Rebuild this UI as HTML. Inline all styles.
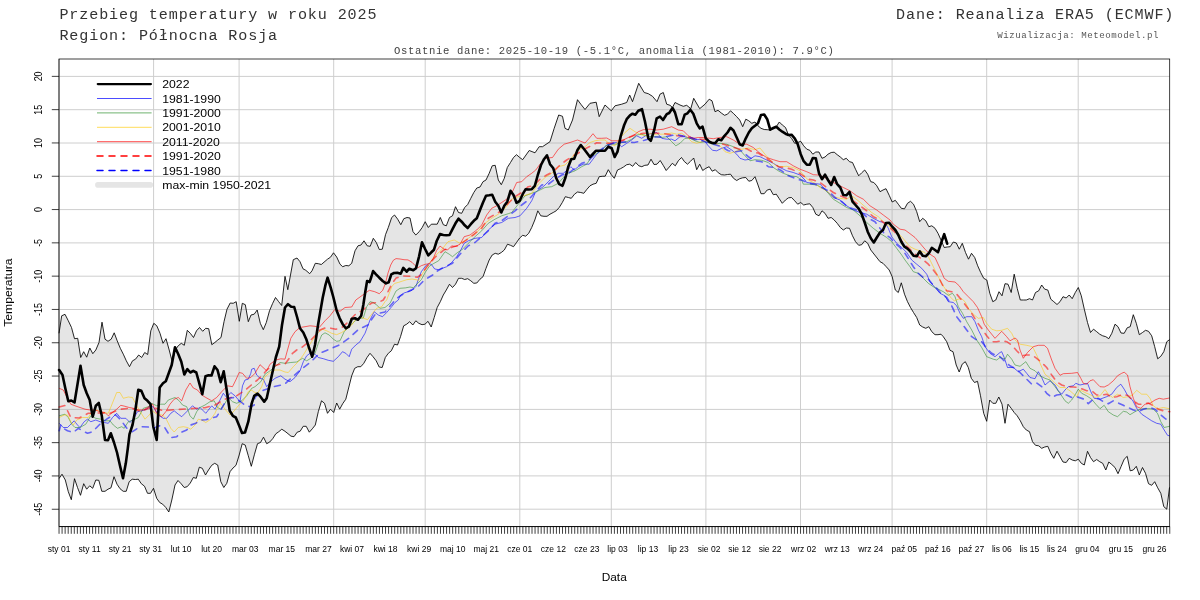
<!DOCTYPE html>
<html lang="pl"><head><meta charset="utf-8"><title>Przebieg temperatury w roku 2025</title>
<style>
html,body{margin:0;padding:0;background:#fff;}
body{width:1200px;height:600px;overflow:hidden;}
svg{display:block;}
.mono{font-family:"Liberation Mono","DejaVu Sans Mono",monospace;}
.sans{font-family:"Liberation Sans","DejaVu Sans",sans-serif;}
</style></head><body>
<svg width="1200" height="600" viewBox="0 0 1200 600">
<rect width="1200" height="600" fill="#fff"/>
<g class="mono" fill="#333">
<text x="59.4" y="18.9" font-size="15.1" letter-spacing="0.88">Przebieg temperatury w roku 2025</text>
<text x="59.4" y="40.1" font-size="15.1" letter-spacing="0.88">Region: Północna Rosja</text>
<text x="896" y="18.9" font-size="15.1" letter-spacing="0.88">Dane: Reanaliza ERA5 (ECMWF)</text>
<text x="997.2" y="37.6" font-size="9.1" letter-spacing="0.54" fill="#555">Wizualizacja: Meteomodel.pl</text>
<text x="394" y="53.5" font-size="10.6" letter-spacing="0.633" fill="#444">Ostatnie dane: 2025-10-19 (-5.1°C, anomalia (1981-2010): 7.9°C)</text>
</g>
<path d="M59 76.4 H1169.8 M59 109.7 H1169.8 M59 143 H1169.8 M59 176.3 H1169.8 M59 209.6 H1169.8 M59 242.9 H1169.8 M59 276.2 H1169.8 M59 309.5 H1169.8 M59 342.8 H1169.8 M59 376.1 H1169.8 M59 409.4 H1169.8 M59 442.6 H1169.8 M59 475.9 H1169.8 M59 509.2 H1169.8 M153.6 59 V526.6 M239.1 59 V526.6 M333.7 59 V526.6 M425.2 59 V526.6 M519.8 59 V526.6 M611.3 59 V526.6 M705.9 59 V526.6 M800.5 59 V526.6 M892.1 59 V526.6 M986.7 59 V526.6 M1078.2 59 V526.6" fill="none" stroke="#cecece" stroke-width="1"/>
<path d="M59 59 V526.6" fill="none" stroke="#999" stroke-width="1"/>
<path d="M59 333.3 L61.7 315.8 L65 314.3 L68.3 320.8 L71.5 327.5 L74.5 338.7 L77.7 338.3 L80.7 357.5 L83.7 351.7 L86.7 357.2 L89.8 348 L92.8 353.7 L95.8 350 L99 342.5 L102 322.2 L105 339.2 L108 341.3 L111.2 339.2 L114.2 332.8 L117.2 340.8 L120.3 348.3 L123.3 354.2 L126.3 360.8 L129.5 366.7 L132.5 360.8 L135.5 359.2 L138.7 355 L141.7 357.5 L144.7 352.5 L147.7 354.5 L150.8 330.8 L153.8 323.3 L156.8 325.8 L160 333.3 L163 343.3 L166 338.7 L169.2 350 L172.2 361.7 L175.2 350 L178.2 345.8 L181.3 343.3 L184.3 345.3 L187.3 330.3 L190.3 333.3 L193.5 337.5 L196.5 330.8 L199.5 327.5 L202.7 331.3 L205.7 328.3 L208.7 328.7 L211.8 344.7 L214.8 342.5 L217.8 340 L221 337.5 L224 321.7 L227 309.2 L230.2 303 L233.2 303.3 L236.2 301.7 L239.3 321.3 L242.3 303.3 L245.3 304.7 L248.3 321.7 L251 315 L254.2 314.2 L257.2 310 L260.3 323.3 L263.3 329.7 L266.3 322.5 L269.5 310.8 L272.5 303.7 L275.5 297.5 L278.7 301.7 L281.7 305.5 L285 276.3 L287.8 289.7 L293.3 259.7 L297 258 L300 261.7 L303 268.8 L305.8 270.3 L309.7 273.7 L312 270.8 L315.3 263.3 L318.3 263.7 L321.3 264.5 L327.5 259.2 L330.5 257.2 L333.5 252.8 L336.7 257 L340 264.2 L342.7 266.7 L345.8 265.5 L348.8 265.8 L351.7 263.3 L355 250.8 L358 245.8 L361 245 L364 240.8 L367.2 245.8 L370.2 246.3 L373.3 238.3 L376.3 242.5 L379.3 249.5 L382.3 249.2 L385.5 234.7 L388.3 227.5 L391.7 217.5 L394.5 215 L397.7 219.2 L400.8 224.7 L403.8 218.7 L407 217.5 L410 218 L413 231.7 L415.8 235 L419.2 231.7 L422.2 227.5 L425.2 221.7 L428.3 227.5 L431.3 224.2 L437.2 224.2 L440.3 217.5 L443.3 224.7 L446.3 225.8 L449.5 217.5 L452.5 215.8 L455.5 206.7 L458.5 212.5 L461.7 213.3 L464.7 207.5 L467.7 204.5 L470.8 198.3 L473.8 192.5 L476.8 188 L480 187 L483 181.7 L486 180 L489.2 173.3 L492.2 165.8 L495.2 165.3 L498.3 180 L501.3 184.7 L504.3 178.3 L507.3 167.5 L510.5 162.5 L513.5 157.5 L516.5 154.7 L519.7 157.5 L522.7 159.7 L529.2 150.5 L535 152.8 L539.2 146.7 L542.5 146.7 L550 141.7 L554.2 128.3 L558.7 115 L562.5 116.3 L565 128.3 L568.3 130 L572.5 120 L577.5 99.7 L580.8 104.2 L585 109.5 L590 103.3 L596.2 102.2 L599.2 116.7 L605 105 L611.3 110.8 L615 105.8 L621.7 104.2 L626.7 102.5 L629.7 95 L632.5 101.7 L638.7 83.3 L644.2 92.5 L648.3 93.7 L652.5 96.3 L657 101.7 L660 94.2 L663.3 92.5 L666.7 104.2 L670 105.3 L672.5 107.5 L675 102.5 L680 105 L683.3 106.3 L686.7 105.3 L690.8 108.7 L693.7 98.3 L699.7 108.7 L705 104.2 L709.2 99.2 L712 100.8 L715 111.7 L718 110.3 L721.3 113 L724.5 115.3 L727.5 114.2 L730.5 110.8 L733.3 113.3 L736.7 116.7 L739.7 120 L742.7 126.7 L745.8 119.2 L748.8 120.8 L751.8 123.3 L755 122 L758 125.8 L761 128.3 L764.2 129.5 L767.2 129.7 L770.2 130 L773.3 128.3 L776.3 126.7 L779.3 122 L782.3 125 L785.5 127.5 L788.5 135 L791.5 138.3 L794.7 143.3 L797.7 142.5 L800.7 141.3 L803.7 145.8 L806.8 149.2 L809.8 150.3 L812.8 154.2 L815.8 152 L819 152 L822 158.3 L825 157 L828 154.2 L831.2 152.5 L834.2 152.2 L837.2 154.7 L840.3 157 L843.3 159.7 L846.3 158.3 L849.5 161.7 L852.5 162.5 L855.5 169.2 L858.7 175.8 L861.7 172.8 L864.7 170 L867.7 174.2 L870 180 L870.8 181.7 L873.8 182.5 L876.8 185.8 L880 191.7 L883 190 L886 188.7 L889.2 195.3 L892.2 202 L895.3 200.3 L898.3 204.2 L901.3 208.3 L904.5 208.8 L907.5 203.3 L910.5 201.3 L913.5 204.2 L916.7 211.7 L919.7 221.7 L922.7 218.3 L925.8 220.8 L928.8 226.7 L931.8 225.8 L935 228.3 L938 233.3 L941 240 L944.2 247.5 L947.2 247 L950.2 246.7 L953.3 242 L956.3 243 L959.3 249.2 L962.3 243.3 L965.5 252.5 L968.5 259.2 L971.5 253.3 L974.7 257.5 L977.7 265.8 L980.7 272.5 L983.7 278.3 L986.8 280 L989.8 293.3 L992.8 301.7 L995.8 300 L999 291.7 L1002 295.8 L1005 283.7 L1008 284.2 L1011.2 292.5 L1014.2 274.2 L1017.2 288.3 L1020.3 300 L1023.3 300 L1026.3 300 L1029.5 298.7 L1032.5 300 L1035.5 292.5 L1038.7 290.8 L1041.7 285 L1044.7 289.2 L1047.8 290 L1050.8 299.2 L1053.8 301.7 L1057 304.5 L1060 301.7 L1063 296.7 L1066.2 298 L1069.2 295 L1072.2 298.7 L1075.3 292.5 L1078.3 287.5 L1081.3 295.8 L1084.3 309.2 L1087.5 322.5 L1090.5 332.5 L1093.5 329.2 L1096.7 331.7 L1099.7 334.2 L1102.7 335.8 L1105.8 336.7 L1108.8 338.7 L1111.8 333.3 L1115 324.2 L1118 326.7 L1121 333 L1124.2 333.3 L1127.2 327.8 L1130.2 326.7 L1133.3 314.7 L1136.3 323.3 L1139.3 334.7 L1142.5 332.5 L1145.5 330.3 L1148.5 331.3 L1151.7 335.8 L1154.7 346.7 L1157.7 358.8 L1160.8 356.3 L1163.8 351.7 L1166.8 341.7 L1169.5 339.7 L1169.8 339.7 L1169.8 487.5 L1169.5 487.5 L1166.8 509.2 L1163.8 506.7 L1160.8 493.3 L1157.7 487.8 L1154.7 481.7 L1151.7 485.3 L1148.5 483.7 L1145.5 473.3 L1142.5 467.5 L1139.3 475 L1136.3 466.3 L1133.3 470 L1130.2 470.8 L1127.2 456.3 L1124.2 459.2 L1121 466.7 L1118 473.7 L1115 467.5 L1111.8 464.5 L1108.8 462 L1105.8 470 L1102.7 463.3 L1099.7 461.7 L1096.7 459.5 L1093.5 461.7 L1090.5 457.5 L1087.5 451.3 L1084.3 465 L1081.3 463.3 L1078.3 459.2 L1075.3 460.8 L1072.2 460 L1069.2 458.3 L1066.2 462.5 L1063 462 L1060 456.7 L1057 451.2 L1053.8 458.3 L1050.8 453.3 L1047.8 446.3 L1044.7 447 L1041.7 448.3 L1038.7 445.8 L1035.5 445.3 L1032.5 441.7 L1029.5 431.7 L1026.3 430 L1023.3 426.7 L1020.3 420.8 L1017.2 415.8 L1014.2 412.5 L1011.2 408.3 L1008 404.2 L1005 423.3 L1002 404.2 L998.8 397 L995.8 403.3 L992.8 403.3 L989.7 400 L986.7 421.3 L983.7 413.3 L980.5 395.8 L977.5 381.3 L974.5 382.5 L971.3 378.3 L968.3 367.5 L965.3 361.7 L962.2 364.2 L959.2 372 L956.2 365 L953 351.7 L950 350.3 L946.7 341.7 L943.3 336.7 L941 334.2 L938 334.7 L935 334.7 L931.8 331.7 L928.8 326.7 L925.8 328.3 L922.7 327 L919.7 325 L916.7 317.5 L913.5 312.5 L910.5 307.5 L907.5 301.7 L904.5 294.2 L901.3 282.8 L898.3 292.5 L895.3 290 L892.2 276.7 L889.2 270 L886.2 266.7 L883 263.3 L880 261.7 L870.8 250 L867.7 243.3 L864.7 240.8 L861.7 244.7 L858.7 245.3 L855.5 241.7 L852.5 235.8 L849.5 228.3 L846.3 228 L843.3 230 L840.3 227.5 L837.2 223.3 L834.2 220 L831.2 217.5 L828 218.3 L825 213.3 L822 210.8 L819 215.8 L815.8 214.2 L812.8 207.5 L809.8 203.8 L806.8 204.2 L803.7 205 L800.7 202.5 L797.7 204.2 L794.7 200.8 L791.5 197.5 L788.5 197.8 L785.5 200 L782.3 203.3 L779.3 198.8 L776.3 194.2 L773.3 194.7 L770.2 189.2 L767.2 190 L764.2 193.7 L761 193.7 L758 185 L755 176.7 L751.8 180.5 L748.8 181.2 L745.8 177.5 L742.7 177.8 L739.7 178.7 L736.7 180.5 L733.5 178.3 L730.5 174.2 L727.5 174.5 L724.5 175 L721.3 174.7 L718.3 172.8 L715.3 169.7 L712.2 171.2 L709.2 166.7 L705.8 168.3 L702.7 170.5 L699.7 164.2 L696.7 169.7 L693.7 158 L690.5 161.3 L687.5 164.2 L684.5 161.7 L681.5 157.5 L678.3 160.8 L675.3 165.8 L672.3 163.3 L669.3 167 L666.2 170.5 L663.2 165.3 L660.2 160.5 L657 164.2 L654 164.5 L651 159.2 L648 165 L644.8 165.3 L641.8 166.7 L638.8 165.8 L635.7 162.5 L632.7 166.3 L629.7 164.2 L626.7 164.7 L623.5 167 L620.5 168.7 L617.5 170 L614.3 178.3 L611.3 174.7 L608.3 169.7 L605.2 176.2 L602.2 176.3 L599.2 176.7 L596.2 183.3 L593 184.2 L590 185.8 L587 189.2 L583.8 193.3 L580.8 192.5 L577.5 192 L574.5 194.2 L571.3 198.3 L568.3 197.5 L565.3 196.7 L562.3 202.5 L559.2 207.5 L556.2 210.8 L553.2 212.5 L550 214.2 L547 216.3 L544 216.3 L540.8 215.8 L537.8 210.8 L534.8 220 L531.7 227.5 L528.7 233.3 L525.7 236.2 L522.7 235.3 L519.7 238 L516.5 242.5 L513.5 246.7 L510.5 245.3 L507.5 244.2 L504.3 250 L501.3 252.5 L498.3 254.2 L495.2 253.3 L492.2 255 L489.2 260 L486 268.3 L483 276.7 L480 279.2 L476.8 283 L473.8 283.3 L470.8 280.8 L467.7 278.7 L464.7 279.5 L461.7 278.3 L458.5 278.3 L455.5 284.2 L452.5 287.5 L449.5 284.2 L446.3 290 L443.3 295 L440.3 301.7 L437.2 307.5 L434.2 317.5 L431.2 327 L428 321.3 L425 324.2 L422 324.7 L418.8 323.3 L415.8 320.8 L412.8 325 L409.7 321.7 L406.7 324.2 L403.7 325.8 L400.5 336.7 L397.5 345 L394.5 344.2 L391.3 350.8 L388.3 353.3 L385.3 357.5 L382.2 367.5 L379.2 367 L376.2 360.8 L373 356.7 L370 353.3 L367 357.5 L363.8 363.3 L360.8 366.7 L357.8 366.7 L354.7 368.3 L351.7 375.8 L345.8 399.2 L342.7 403.7 L339.7 409.2 L336.7 403 L333.7 412.5 L330.5 409.2 L327.5 413.3 L324.5 403.3 L321.5 400.8 L318.3 411.7 L315.3 425 L312.3 428.8 L309.3 432.2 L306.2 426.3 L303.2 426.3 L300.2 431.2 L297.2 432.2 L294 436.7 L291 436.2 L288 433.7 L285 431.3 L281.8 429.2 L278.8 431.7 L275.8 433.8 L272.7 438.7 L269.7 442 L266.7 443.7 L263.5 437.2 L260.5 442.5 L257.5 443.7 L254.5 454.2 L251.3 466.3 L248.3 455.8 L245.2 445 L242.2 443.7 L239.2 455 L236 465.3 L233 468 L230 471.7 L226.8 483.3 L223.8 487.5 L220.8 481.7 L217.7 465 L214.7 463.3 L211.7 465.3 L208.5 470 L205.5 475 L202.3 468.3 L199.3 467.2 L196.3 478.3 L193.3 477.5 L190.3 483 L187.2 486.7 L184.2 487.5 L181.2 483.8 L178 480.5 L175 485 L171.8 500 L168.8 512 L165.8 507.5 L162.7 504.2 L159.7 502.5 L156.7 498.3 L153.5 488.3 L150.5 493.3 L147.5 493.3 L144.5 486.2 L141.3 483.7 L138.3 479.2 L135.3 479.5 L132.2 479.2 L129.2 481.7 L126.2 491.3 L123.2 491.3 L120 488.7 L117 484.2 L114 476.7 L111 487.8 L108 489.2 L105 491.3 L101.8 491.3 L98.8 480.3 L95.8 480 L92.7 488.3 L89.7 485.8 L86.7 489.2 L83.7 483.7 L80.5 495.3 L77.5 487.5 L74.5 478.7 L71.3 499.7 L68.3 491.7 L65.3 480 L62 474.2 L59.2 478.3 L59 478.3 Z" fill="rgba(169,169,169,0.3)" stroke="none"/>
<path d="M59 333.3 L61.7 315.8 L65 314.3 L68.3 320.8 L71.5 327.5 L74.5 338.7 L77.7 338.3 L80.7 357.5 L83.7 351.7 L86.7 357.2 L89.8 348 L92.8 353.7 L95.8 350 L99 342.5 L102 322.2 L105 339.2 L108 341.3 L111.2 339.2 L114.2 332.8 L117.2 340.8 L120.3 348.3 L123.3 354.2 L126.3 360.8 L129.5 366.7 L132.5 360.8 L135.5 359.2 L138.7 355 L141.7 357.5 L144.7 352.5 L147.7 354.5 L150.8 330.8 L153.8 323.3 L156.8 325.8 L160 333.3 L163 343.3 L166 338.7 L169.2 350 L172.2 361.7 L175.2 350 L178.2 345.8 L181.3 343.3 L184.3 345.3 L187.3 330.3 L190.3 333.3 L193.5 337.5 L196.5 330.8 L199.5 327.5 L202.7 331.3 L205.7 328.3 L208.7 328.7 L211.8 344.7 L214.8 342.5 L217.8 340 L221 337.5 L224 321.7 L227 309.2 L230.2 303 L233.2 303.3 L236.2 301.7 L239.3 321.3 L242.3 303.3 L245.3 304.7 L248.3 321.7 L251 315 L254.2 314.2 L257.2 310 L260.3 323.3 L263.3 329.7 L266.3 322.5 L269.5 310.8 L272.5 303.7 L275.5 297.5 L278.7 301.7 L281.7 305.5 L285 276.3 L287.8 289.7 L293.3 259.7 L297 258 L300 261.7 L303 268.8 L305.8 270.3 L309.7 273.7 L312 270.8 L315.3 263.3 L318.3 263.7 L321.3 264.5 L327.5 259.2 L330.5 257.2 L333.5 252.8 L336.7 257 L340 264.2 L342.7 266.7 L345.8 265.5 L348.8 265.8 L351.7 263.3 L355 250.8 L358 245.8 L361 245 L364 240.8 L367.2 245.8 L370.2 246.3 L373.3 238.3 L376.3 242.5 L379.3 249.5 L382.3 249.2 L385.5 234.7 L388.3 227.5 L391.7 217.5 L394.5 215 L397.7 219.2 L400.8 224.7 L403.8 218.7 L407 217.5 L410 218 L413 231.7 L415.8 235 L419.2 231.7 L422.2 227.5 L425.2 221.7 L428.3 227.5 L431.3 224.2 L437.2 224.2 L440.3 217.5 L443.3 224.7 L446.3 225.8 L449.5 217.5 L452.5 215.8 L455.5 206.7 L458.5 212.5 L461.7 213.3 L464.7 207.5 L467.7 204.5 L470.8 198.3 L473.8 192.5 L476.8 188 L480 187 L483 181.7 L486 180 L489.2 173.3 L492.2 165.8 L495.2 165.3 L498.3 180 L501.3 184.7 L504.3 178.3 L507.3 167.5 L510.5 162.5 L513.5 157.5 L516.5 154.7 L519.7 157.5 L522.7 159.7 L529.2 150.5 L535 152.8 L539.2 146.7 L542.5 146.7 L550 141.7 L554.2 128.3 L558.7 115 L562.5 116.3 L565 128.3 L568.3 130 L572.5 120 L577.5 99.7 L580.8 104.2 L585 109.5 L590 103.3 L596.2 102.2 L599.2 116.7 L605 105 L611.3 110.8 L615 105.8 L621.7 104.2 L626.7 102.5 L629.7 95 L632.5 101.7 L638.7 83.3 L644.2 92.5 L648.3 93.7 L652.5 96.3 L657 101.7 L660 94.2 L663.3 92.5 L666.7 104.2 L670 105.3 L672.5 107.5 L675 102.5 L680 105 L683.3 106.3 L686.7 105.3 L690.8 108.7 L693.7 98.3 L699.7 108.7 L705 104.2 L709.2 99.2 L712 100.8 L715 111.7 L718 110.3 L721.3 113 L724.5 115.3 L727.5 114.2 L730.5 110.8 L733.3 113.3 L736.7 116.7 L739.7 120 L742.7 126.7 L745.8 119.2 L748.8 120.8 L751.8 123.3 L755 122 L758 125.8 L761 128.3 L764.2 129.5 L767.2 129.7 L770.2 130 L773.3 128.3 L776.3 126.7 L779.3 122 L782.3 125 L785.5 127.5 L788.5 135 L791.5 138.3 L794.7 143.3 L797.7 142.5 L800.7 141.3 L803.7 145.8 L806.8 149.2 L809.8 150.3 L812.8 154.2 L815.8 152 L819 152 L822 158.3 L825 157 L828 154.2 L831.2 152.5 L834.2 152.2 L837.2 154.7 L840.3 157 L843.3 159.7 L846.3 158.3 L849.5 161.7 L852.5 162.5 L855.5 169.2 L858.7 175.8 L861.7 172.8 L864.7 170 L867.7 174.2 L870 180 L870.8 181.7 L873.8 182.5 L876.8 185.8 L880 191.7 L883 190 L886 188.7 L889.2 195.3 L892.2 202 L895.3 200.3 L898.3 204.2 L901.3 208.3 L904.5 208.8 L907.5 203.3 L910.5 201.3 L913.5 204.2 L916.7 211.7 L919.7 221.7 L922.7 218.3 L925.8 220.8 L928.8 226.7 L931.8 225.8 L935 228.3 L938 233.3 L941 240 L944.2 247.5 L947.2 247 L950.2 246.7 L953.3 242 L956.3 243 L959.3 249.2 L962.3 243.3 L965.5 252.5 L968.5 259.2 L971.5 253.3 L974.7 257.5 L977.7 265.8 L980.7 272.5 L983.7 278.3 L986.8 280 L989.8 293.3 L992.8 301.7 L995.8 300 L999 291.7 L1002 295.8 L1005 283.7 L1008 284.2 L1011.2 292.5 L1014.2 274.2 L1017.2 288.3 L1020.3 300 L1023.3 300 L1026.3 300 L1029.5 298.7 L1032.5 300 L1035.5 292.5 L1038.7 290.8 L1041.7 285 L1044.7 289.2 L1047.8 290 L1050.8 299.2 L1053.8 301.7 L1057 304.5 L1060 301.7 L1063 296.7 L1066.2 298 L1069.2 295 L1072.2 298.7 L1075.3 292.5 L1078.3 287.5 L1081.3 295.8 L1084.3 309.2 L1087.5 322.5 L1090.5 332.5 L1093.5 329.2 L1096.7 331.7 L1099.7 334.2 L1102.7 335.8 L1105.8 336.7 L1108.8 338.7 L1111.8 333.3 L1115 324.2 L1118 326.7 L1121 333 L1124.2 333.3 L1127.2 327.8 L1130.2 326.7 L1133.3 314.7 L1136.3 323.3 L1139.3 334.7 L1142.5 332.5 L1145.5 330.3 L1148.5 331.3 L1151.7 335.8 L1154.7 346.7 L1157.7 358.8 L1160.8 356.3 L1163.8 351.7 L1166.8 341.7 L1169.5 339.7 L1169.8 339.7" fill="none" stroke="#000" stroke-width="0.85" stroke-linejoin="round"/>
<path d="M59 478.3 L59.2 478.3 L62 474.2 L65.3 480 L68.3 491.7 L71.3 499.7 L74.5 478.7 L77.5 487.5 L80.5 495.3 L83.7 483.7 L86.7 489.2 L89.7 485.8 L92.7 488.3 L95.8 480 L98.8 480.3 L101.8 491.3 L105 491.3 L108 489.2 L111 487.8 L114 476.7 L117 484.2 L120 488.7 L123.2 491.3 L126.2 491.3 L129.2 481.7 L132.2 479.2 L135.3 479.5 L138.3 479.2 L141.3 483.7 L144.5 486.2 L147.5 493.3 L150.5 493.3 L153.5 488.3 L156.7 498.3 L159.7 502.5 L162.7 504.2 L165.8 507.5 L168.8 512 L171.8 500 L175 485 L178 480.5 L181.2 483.8 L184.2 487.5 L187.2 486.7 L190.3 483 L193.3 477.5 L196.3 478.3 L199.3 467.2 L202.3 468.3 L205.5 475 L208.5 470 L211.7 465.3 L214.7 463.3 L217.7 465 L220.8 481.7 L223.8 487.5 L226.8 483.3 L230 471.7 L233 468 L236 465.3 L239.2 455 L242.2 443.7 L245.2 445 L248.3 455.8 L251.3 466.3 L254.5 454.2 L257.5 443.7 L260.5 442.5 L263.5 437.2 L266.7 443.7 L269.7 442 L272.7 438.7 L275.8 433.8 L278.8 431.7 L281.8 429.2 L285 431.3 L288 433.7 L291 436.2 L294 436.7 L297.2 432.2 L300.2 431.2 L303.2 426.3 L306.2 426.3 L309.3 432.2 L312.3 428.8 L315.3 425 L318.3 411.7 L321.5 400.8 L324.5 403.3 L327.5 413.3 L330.5 409.2 L333.7 412.5 L336.7 403 L339.7 409.2 L342.7 403.7 L345.8 399.2 L351.7 375.8 L354.7 368.3 L357.8 366.7 L360.8 366.7 L363.8 363.3 L367 357.5 L370 353.3 L373 356.7 L376.2 360.8 L379.2 367 L382.2 367.5 L385.3 357.5 L388.3 353.3 L391.3 350.8 L394.5 344.2 L397.5 345 L400.5 336.7 L403.7 325.8 L406.7 324.2 L409.7 321.7 L412.8 325 L415.8 320.8 L418.8 323.3 L422 324.7 L425 324.2 L428 321.3 L431.2 327 L434.2 317.5 L437.2 307.5 L440.3 301.7 L443.3 295 L446.3 290 L449.5 284.2 L452.5 287.5 L455.5 284.2 L458.5 278.3 L461.7 278.3 L464.7 279.5 L467.7 278.7 L470.8 280.8 L473.8 283.3 L476.8 283 L480 279.2 L483 276.7 L486 268.3 L489.2 260 L492.2 255 L495.2 253.3 L498.3 254.2 L501.3 252.5 L504.3 250 L507.5 244.2 L510.5 245.3 L513.5 246.7 L516.5 242.5 L519.7 238 L522.7 235.3 L525.7 236.2 L528.7 233.3 L531.7 227.5 L534.8 220 L537.8 210.8 L540.8 215.8 L544 216.3 L547 216.3 L550 214.2 L553.2 212.5 L556.2 210.8 L559.2 207.5 L562.3 202.5 L565.3 196.7 L568.3 197.5 L571.3 198.3 L574.5 194.2 L577.5 192 L580.8 192.5 L583.8 193.3 L587 189.2 L590 185.8 L593 184.2 L596.2 183.3 L599.2 176.7 L602.2 176.3 L605.2 176.2 L608.3 169.7 L611.3 174.7 L614.3 178.3 L617.5 170 L620.5 168.7 L623.5 167 L626.7 164.7 L629.7 164.2 L632.7 166.3 L635.7 162.5 L638.8 165.8 L641.8 166.7 L644.8 165.3 L648 165 L651 159.2 L654 164.5 L657 164.2 L660.2 160.5 L663.2 165.3 L666.2 170.5 L669.3 167 L672.3 163.3 L675.3 165.8 L678.3 160.8 L681.5 157.5 L684.5 161.7 L687.5 164.2 L690.5 161.3 L693.7 158 L696.7 169.7 L699.7 164.2 L702.7 170.5 L705.8 168.3 L709.2 166.7 L712.2 171.2 L715.3 169.7 L718.3 172.8 L721.3 174.7 L724.5 175 L727.5 174.5 L730.5 174.2 L733.5 178.3 L736.7 180.5 L739.7 178.7 L742.7 177.8 L745.8 177.5 L748.8 181.2 L751.8 180.5 L755 176.7 L758 185 L761 193.7 L764.2 193.7 L767.2 190 L770.2 189.2 L773.3 194.7 L776.3 194.2 L779.3 198.8 L782.3 203.3 L785.5 200 L788.5 197.8 L791.5 197.5 L794.7 200.8 L797.7 204.2 L800.7 202.5 L803.7 205 L806.8 204.2 L809.8 203.8 L812.8 207.5 L815.8 214.2 L819 215.8 L822 210.8 L825 213.3 L828 218.3 L831.2 217.5 L834.2 220 L837.2 223.3 L840.3 227.5 L843.3 230 L846.3 228 L849.5 228.3 L852.5 235.8 L855.5 241.7 L858.7 245.3 L861.7 244.7 L864.7 240.8 L867.7 243.3 L870.8 250 L880 261.7 L883 263.3 L886.2 266.7 L889.2 270 L892.2 276.7 L895.3 290 L898.3 292.5 L901.3 282.8 L904.5 294.2 L907.5 301.7 L910.5 307.5 L913.5 312.5 L916.7 317.5 L919.7 325 L922.7 327 L925.8 328.3 L928.8 326.7 L931.8 331.7 L935 334.7 L938 334.7 L941 334.2 L943.3 336.7 L946.7 341.7 L950 350.3 L953 351.7 L956.2 365 L959.2 372 L962.2 364.2 L965.3 361.7 L968.3 367.5 L971.3 378.3 L974.5 382.5 L977.5 381.3 L980.5 395.8 L983.7 413.3 L986.7 421.3 L989.7 400 L992.8 403.3 L995.8 403.3 L998.8 397 L1002 404.2 L1005 423.3 L1008 404.2 L1011.2 408.3 L1014.2 412.5 L1017.2 415.8 L1020.3 420.8 L1023.3 426.7 L1026.3 430 L1029.5 431.7 L1032.5 441.7 L1035.5 445.3 L1038.7 445.8 L1041.7 448.3 L1044.7 447 L1047.8 446.3 L1050.8 453.3 L1053.8 458.3 L1057 451.2 L1060 456.7 L1063 462 L1066.2 462.5 L1069.2 458.3 L1072.2 460 L1075.3 460.8 L1078.3 459.2 L1081.3 463.3 L1084.3 465 L1087.5 451.3 L1090.5 457.5 L1093.5 461.7 L1096.7 459.5 L1099.7 461.7 L1102.7 463.3 L1105.8 470 L1108.8 462 L1111.8 464.5 L1115 467.5 L1118 473.7 L1121 466.7 L1124.2 459.2 L1127.2 456.3 L1130.2 470.8 L1133.3 470 L1136.3 466.3 L1139.3 475 L1142.5 467.5 L1145.5 473.3 L1148.5 483.7 L1151.7 485.3 L1154.7 481.7 L1157.7 487.8 L1160.8 493.3 L1163.8 506.7 L1166.8 509.2 L1169.5 487.5 L1169.8 487.5" fill="none" stroke="#000" stroke-width="0.85" stroke-linejoin="round"/>
<path d="M59 423.3 L59.2 423.3 L63.3 427.5 L67.5 427.5 L71.7 423.3 L74.2 420.8 L77.5 425 L80 427.5 L84.2 421.7 L87.5 419.2 L90.8 421.7 L95.8 420 L100 421.7 L104.2 422.5 L108.3 423.3 L112.5 417.5 L116.7 413.3 L120.8 418.3 L125.8 418.3 L130 422.5 L134.2 417.5 L137.5 411.7 L141.7 410.8 L146.7 409.2 L150.8 405 L155 409.2 L158.3 415 L163.3 418.3 L166.7 418.3 L170.8 413.3 L174.2 410.8 L178.3 414.2 L181.7 416.7 L186.7 411.7 L192.5 405.8 L196.7 409.2 L200 407.5 L205.8 413.3 L211.7 405.8 L215 409.2 L219.2 401.7 L223.3 393.3 L226.7 397.5 L230.8 392.5 L235 395.8 L240 401.7 L242.5 385.8 L245 380 L248.3 379.2 L250.8 373.3 L251.7 369.2 L254.2 368.3 L256.7 375 L260 378.3 L263.3 379.2 L266.7 386.7 L270 382.5 L275 378.3 L280.8 375.8 L285 379.2 L290 381.7 L295 377.5 L300 370.8 L303.3 361.7 L306.7 355.8 L310 353.3 L315 354.2 L318.3 357.5 L323.3 358.7 L328.3 360.3 L333.3 361.3 L338.3 356.7 L342.5 351.7 L345.8 353.3 L349.2 356.7 L351.7 349.2 L355.8 345 L360 341.7 L365 333.3 L370 320 L374.2 311.7 L378.3 315 L382.5 316.7 L386.7 312.5 L391.7 306.7 L395 302.5 L398.3 300 L400 295.7 L404 293 L408 291.7 L412 290.3 L416 286.3 L418.7 278.3 L421.3 271.7 L425.3 266.3 L428.7 263.7 L431.3 264.3 L434.7 269 L438.7 269.7 L446.7 266.7 L451.7 262.5 L456.7 256.7 L460.8 250 L464.2 243.3 L468.3 240.8 L475 238.3 L481.7 237.5 L488.3 230 L495 224.2 L501.7 222.5 L508.3 218.3 L515 217.5 L520 215.8 L526.7 208.3 L531.7 200.8 L535 193.3 L538.3 190 L543.3 186.7 L548.3 181.7 L553.3 176.7 L558.3 173.3 L563.3 173.3 L568.3 169.2 L570.8 166.7 L574.2 170 L578.3 166.7 L583.3 164.2 L589.2 164.2 L596.7 154.2 L601.7 150 L606.7 145 L611.7 143.3 L616.7 142.5 L621.7 146.7 L626.7 143.3 L631.7 140 L636.7 135.8 L641.7 138.3 L646.7 135 L651.7 133.3 L656.7 132.5 L661.7 138.3 L666.7 139.2 L671.7 139.2 L675 140.8 L680 136.7 L685 136.7 L690 138.3 L695 140 L700 139.2 L705 141.7 L708.3 145.8 L712.5 150.3 L716.7 150.8 L721.7 148.3 L726.7 146.7 L731.7 150 L736.7 154.2 L740 158.3 L745 160 L750 159.2 L755 155.8 L760 156.7 L766.7 160 L773.3 163.3 L780 167.5 L786.7 170.8 L793.3 172.5 L800 175 L805 180 L806.7 182.5 L813.3 183.3 L820 184.2 L826.7 190.8 L833.3 197.5 L840 200 L846.7 205.8 L853.3 210 L860 212.5 L866.7 214.2 L873.3 218.3 L880 221.7 L885 222.5 L888.3 228.3 L891.7 236.7 L896.7 243.3 L901.7 247.5 L906.7 252.5 L911.7 260 L916.7 264.2 L921.7 268.3 L926.7 274.2 L930 281.7 L935 287.5 L940 293.3 L945 295.8 L948.3 301.7 L953.3 302.5 L956.7 305.8 L960 313.3 L963.3 318.3 L966.7 316.7 L971.7 316.7 L975 321.7 L978.3 330 L981.7 336.7 L985 346.7 L990 353.3 L995 356.7 L1000 352.5 L1001.7 351.7 L1004.2 357.5 L1007.5 367.5 L1013.3 367.5 L1018.3 371.7 L1023.3 369.2 L1026.7 373.3 L1030 377.5 L1035 378.7 L1038.3 371.7 L1041.7 377.5 L1045 385 L1050 380.8 L1055 385 L1058.3 390.8 L1061.7 394.2 L1065 390 L1068.3 386.7 L1073.3 385.8 L1075.8 383.3 L1080 385 L1087.5 383.3 L1090.8 391.7 L1094.2 398.3 L1100 399.2 L1106.7 396.7 L1111.7 394.2 L1116.7 387.5 L1120.8 384.2 L1124.2 389.2 L1128.3 396.7 L1132.5 400 L1136.7 408.3 L1141.7 414.2 L1146.7 417.5 L1151.7 420.8 L1156.7 423.3 L1160.8 424.2 L1164.2 430 L1167.5 435.3 L1169.5 435.8 L1169.8 435.8" fill="none" stroke="rgba(0,0,255,0.7)" stroke-width="0.85" stroke-linejoin="round"/>
<path d="M59 415.8 L59.2 415.8 L65 414.2 L68.3 417.5 L71.7 424.2 L75 427.5 L80 427.5 L85.8 424.2 L90.8 415.8 L95.8 418.3 L100.8 419.2 L105 420.8 L110 420.8 L113.3 425 L117.5 428.3 L121.7 426.7 L124.2 428.3 L128.3 421.7 L133.3 420 L138.3 417.5 L143.3 408.3 L148.3 406.7 L151.7 403.3 L156.7 405.8 L160.8 404.2 L165 404.2 L168.3 400 L175 397.5 L179.2 400.8 L182.5 405 L186.7 406.7 L190 415.8 L193.3 419.2 L196.7 411.7 L200 407.5 L205 405 L210 401.7 L214.2 400.8 L217.5 407.5 L220.8 409.2 L225 403.3 L228.3 397.5 L232.5 401.7 L236.7 403.3 L241.7 400.8 L246.7 395.8 L251.7 388.3 L255 386.7 L260.8 381.7 L265 374.2 L270 370.8 L275 366.7 L280 362.5 L285 363.3 L290.8 362.5 L296.7 362 L302.5 358.3 L306.7 360.8 L310.8 358.3 L315 353.3 L318.3 343.3 L321.7 335 L325 332.8 L329.2 335 L333.3 339.2 L336.7 341.3 L340 340.8 L344.2 331.7 L348.3 327.5 L353.3 322.5 L358.3 318.3 L363.3 318 L366.7 306.7 L370 301.7 L373.3 302.5 L376.7 305 L380 308.3 L385 307.5 L390 303.3 L396 291 L400 288.3 L405.3 287.9 L410 287 L413.3 287.7 L417.3 283.7 L421.3 279.7 L425.3 272.3 L429.3 266.3 L433.3 263.7 L438.7 260.7 L445 251.7 L449.2 254.2 L452.5 256.7 L457.5 252.5 L461.7 250 L468.3 243.3 L475 236.7 L481.7 230.8 L488.3 223.3 L495 219.2 L501.7 215.8 L508.3 213.7 L511.7 212.5 L518.3 204.2 L525 195.8 L531.7 193.3 L538.3 190.8 L545 187.5 L551.7 186.7 L558.3 183.3 L563.3 177.5 L568.3 173.3 L575 170.8 L581.7 166.7 L586.7 164.2 L591.7 156.7 L596.7 153.3 L601.7 150 L606.7 145 L611.7 144.2 L616.7 144.2 L621.7 142.5 L626.7 141.7 L631.7 139.2 L636.7 135 L641.7 134.2 L646.7 135.8 L651.7 136.7 L656.7 136.7 L661.7 137.5 L666.7 136.7 L671.7 141.7 L675.8 145.8 L680 143.3 L685 138.3 L690 138.3 L695 140.8 L700 142.5 L705 141.7 L713.3 144.2 L720 143.3 L726.7 144.2 L733.3 146.7 L740 150 L745 155.8 L750 160.8 L755 159.7 L761.7 160.3 L768.3 162.5 L773.3 167.5 L778.3 170.8 L783.3 173.3 L790 175.8 L796.7 176.7 L801.7 180 L803.3 184.2 L810 184.2 L816.7 185 L823.3 188.3 L828.3 193.3 L833.3 199.2 L840 203.3 L846.7 207.5 L853.3 210 L860 215.8 L866.7 222.5 L873.3 228.3 L880 233.3 L886.7 237.5 L891.7 241.7 L896.7 248.3 L901.7 255 L905 260 L910 266.7 L913.3 271.7 L918.3 273.3 L923.3 278.3 L928.3 283.3 L933.3 286.7 L938.3 289.2 L943.3 291.7 L948.3 295.3 L952.5 293.3 L955 296.7 L958.3 306.7 L962.5 313.3 L966.7 321.7 L971.7 330 L976.7 340 L981.7 347.5 L986.7 356.7 L993.3 359.2 L996.7 360 L1000 357.5 L1005 359.2 L1007.5 354.2 L1011.7 359.2 L1015 365 L1020 366.3 L1025.8 361.7 L1030 368.3 L1035 370.8 L1040 375.8 L1045 378.3 L1050 380 L1055 386.7 L1060 393.3 L1065 400.8 L1068.3 403.3 L1071.7 400 L1075 395 L1078.3 389.2 L1081.7 393.3 L1086.7 395.8 L1091.7 399.2 L1095.8 404.2 L1100 408.7 L1104.2 405.3 L1108.3 411.7 L1113.3 415 L1117.5 416.7 L1123.3 411.3 L1126.7 412 L1130 414.7 L1135 411.7 L1140 409.2 L1145 408.7 L1150 408.7 L1153.3 409.2 L1157.5 413.3 L1160.8 421.7 L1164.2 427.5 L1169.5 426.3 L1169.8 426.3" fill="none" stroke="rgba(34,139,34,0.65)" stroke-width="0.85" stroke-linejoin="round"/>
<path d="M59 417.5 L59.2 417.5 L64.2 415 L67.5 415 L70.8 421.7 L73.3 425 L76.7 420 L82.5 417.5 L88.3 417.5 L92.5 410.8 L96.7 410 L102.5 412.5 L108.3 413.3 L111.7 405 L116.7 392.5 L120 392.5 L123.3 398.3 L128.3 397 L132.5 397.5 L136.7 405.8 L140.8 412.5 L145 419.2 L149.2 415 L152.5 410.8 L156.7 414.2 L162.5 415 L166.7 420 L170.8 428.3 L174.2 432 L178.3 427.5 L183.3 426.7 L187.5 427.5 L190.8 429.2 L195 425 L198.3 419.2 L201.7 420 L205.8 422.5 L210.8 419.2 L215 413.3 L217.5 407.5 L220.8 403.3 L225 409.2 L230 415 L234.2 410.8 L238.3 405.8 L243.3 400.8 L248.3 391.7 L251.7 390 L253.3 391.7 L257.5 393.3 L261.7 386.7 L265 376.7 L270 372.5 L275 370 L280 370 L285 372 L288.3 372.5 L293.3 366.7 L298.3 361.7 L303.3 355 L308.3 346.7 L313.3 339.2 L318.3 332.5 L322.5 329.2 L326.7 330.8 L331.7 333.3 L336.7 334.7 L341.7 332.5 L346.7 329.2 L351.7 325 L355.8 319.2 L361.7 317.5 L367.5 319.7 L371.7 314.2 L376.7 308.3 L381.7 306.7 L385 301.7 L386.7 300 L389.3 293 L392 286.3 L394.7 283.4 L398.7 282.3 L402.7 281 L406.7 279.7 L412 279 L416 279.7 L418.7 280.3 L421.3 275.7 L425.3 269 L429.3 263.7 L433.3 258.3 L437.3 253.7 L441.3 250.3 L445.3 245 L448 241.7 L454.2 240 L460 243.3 L465 240.8 L471.7 235.8 L478.3 230.8 L485 223.3 L491.7 218.3 L498.3 214.2 L505 208.3 L511.7 199.2 L518.3 196.7 L525 195.3 L531.7 193.3 L538.3 184.2 L545 177.5 L551.7 173.3 L558.3 166.7 L565 165 L570 160 L575 153.3 L580 149.2 L585 146.7 L590 142.5 L595 140.8 L600 140 L605 140 L610 144.2 L615 145.8 L620 138.3 L625 132.5 L630 128.3 L635 131.7 L640 134.2 L645 135.8 L650 133.3 L655 134.2 L660 134.2 L665 134.2 L671.7 133 L676.7 134.2 L681.7 133.3 L686.7 136.7 L691.7 141.7 L696.7 143.3 L701.7 141.7 L706.7 140.8 L713.3 143.3 L720 145.8 L725 151.7 L730 153.3 L735 151.7 L741.7 149.2 L748.3 148 L755 149.7 L760 148 L765 154.2 L770 160 L775 165 L780 166.7 L786.7 166.3 L793.3 167.5 L800 170.8 L805 176.7 L808.3 180 L815 183.3 L820 187.5 L826.7 190.8 L833.3 196.7 L840 198.3 L846.7 199.2 L851.7 195.8 L858.3 200.8 L865 206.7 L871.7 212.5 L878.3 216.7 L885 223.3 L895 230.8 L900 235 L905 240.8 L910 246.7 L915 249.2 L920 250.8 L925 252.5 L928.3 256.7 L930 260 L933.3 266.7 L938.3 276.7 L942.5 285 L946.7 290.8 L950 296.7 L954.2 300.8 L958.3 299.2 L961.7 298.7 L965 301.7 L968.3 308.3 L973.3 314.2 L978.3 318.3 L983.3 317.5 L986.7 323.3 L991.7 329.2 L996.7 330.8 L1001.7 330.3 L1007.5 328.3 L1011.7 333.3 L1015 340 L1020 344.2 L1026.7 345.3 L1032.5 346.7 L1036.7 355 L1040.8 365 L1045 374.2 L1050 378.3 L1055 383.3 L1060 387.5 L1065 387.5 L1070 390.8 L1076.7 396.7 L1080 390 L1086.7 393.3 L1090.8 395 L1095 397.5 L1100 395.8 L1105 389.5 L1108.3 394.2 L1112.5 397.5 L1117.5 394.2 L1123.3 397.5 L1128.3 396.7 L1132.5 395 L1136.7 390.3 L1141.7 394.2 L1146.7 394.2 L1150 398.3 L1153.3 405.8 L1157.5 408.7 L1163.3 407.5 L1169.5 408.7 L1169.8 408.7" fill="none" stroke="rgba(255,200,0,0.65)" stroke-width="0.85" stroke-linejoin="round"/>
<path d="M59 388.3 L59.2 388.3 L63.3 390 L67.5 398.3 L70.8 404.2 L75 405.8 L80 407.5 L85 409.2 L90 410 L95 410 L100 411.7 L105 412.5 L108.3 415.8 L112.5 412.5 L116.7 409.2 L120.8 405.3 L125 406.3 L129.2 407.5 L133.3 408.3 L138.3 410 L143.3 410 L147.5 407.5 L152.5 404.2 L156.7 413.3 L161.7 416.7 L165.8 411.7 L170 404.2 L174.2 399.2 L178.3 397.5 L181.7 400.8 L185.8 390 L190 383 L193.3 388 L197.5 390 L201.7 395 L205.8 397.5 L211.7 400.8 L216.7 397.5 L221.7 391.7 L227.5 385.8 L232.5 386.7 L235.8 380 L239.2 372.5 L242.5 373.3 L246.7 378.3 L250.8 377.5 L255 373.3 L260 364.7 L266.7 370.8 L270 364.2 L275.8 360 L280.8 358.8 L285 359.2 L287.5 350 L290.8 338.3 L295 331.7 L300 327.5 L305 326.7 L310 325.8 L315 326.3 L319.2 327.5 L325 320.8 L330 315.8 L335 309.2 L340 311.3 L345 307.5 L351.7 307 L355.8 300 L369.3 290.3 L374.7 291.7 L379.3 293.7 L382.7 290.3 L385.3 283.7 L388 273 L390.7 265 L393.3 260.3 L396 258.6 L400 259 L404 259.7 L408 259.9 L412 262.3 L415.3 265.7 L418 267.7 L421.3 265.7 L425.3 264.3 L429.3 263.7 L433.3 258.3 L436.7 250.3 L440 246.1 L444.2 249.2 L447.5 250 L451.7 245.8 L455 246.7 L460 244.2 L464.2 236.7 L470 235 L476.7 230 L481.7 225 L486.7 215 L491.7 208.3 L496.7 205.8 L501.7 202.5 L506.7 199.2 L511.7 193.3 L516.7 182.5 L521.7 181.7 L526.7 176.7 L531.7 173.3 L535.8 170 L540 164.2 L545 158.3 L552.5 157.5 L558.3 149.2 L564.2 144.2 L570 142.5 L577.5 140 L585 143 L589.2 138.3 L593 133.7 L596.7 138.3 L601.7 138.3 L606.7 138 L611.7 140.8 L618.3 140.8 L623.3 140 L628.3 137.5 L633.3 135.8 L638.3 131.7 L643.3 129.7 L650 129.2 L656.7 130 L663.3 129.2 L671.7 126.7 L678.3 130 L683.3 130.8 L688.3 135.8 L693.3 138.3 L698.3 137.5 L703.3 137.5 L713.3 138.7 L720 137.5 L726.7 136.7 L733.3 140 L740 144.2 L746.7 144.2 L753.3 147.5 L760 153.3 L766.7 157.5 L773.3 159.7 L780 161.7 L786.7 161.7 L793.3 165.8 L800 169.2 L806.7 171.7 L813.3 174.7 L818.3 175 L823.3 176.7 L830 180.8 L836.7 184.2 L843.3 187.5 L850 190.8 L856.7 195.8 L863.3 199.2 L870 205.8 L876.7 210 L883.3 215 L890 220 L893.3 224.2 L900 229.2 L905 230 L910 233.7 L915 237.5 L920 243.3 L925 249.2 L930 254.2 L935 257.5 L940 268.3 L944.2 278.3 L948.3 281.3 L955 282 L959.2 285.8 L963.3 291.7 L968.3 296.7 L973.3 301.7 L977.5 307.5 L981.7 316.7 L984.2 324.2 L988.3 330 L995 338.3 L1001.7 331.3 L1006.7 336.7 L1010 340.8 L1015 338 L1017.5 340 L1020 350 L1023.3 358.3 L1027.5 352.5 L1033.3 346.7 L1038.3 345.3 L1044.2 345.3 L1047.5 348.3 L1051.7 360 L1055 368.3 L1060 375.3 L1063.3 373.7 L1071.7 373.3 L1077.5 372.5 L1080.8 378.3 L1083.3 383.3 L1086.7 384.2 L1090 380.8 L1093.3 379.7 L1096.7 383.3 L1100 386.7 L1104.2 387 L1108.3 385 L1113.3 380.8 L1117.5 375.8 L1121.7 373.3 L1124.2 372.2 L1127.5 375 L1130 386.7 L1133.3 398.3 L1136.7 406.7 L1140.8 408.3 L1145 404.2 L1150 403.3 L1155 400 L1159.2 398.3 L1163.3 399.2 L1169.5 398 L1169.8 398" fill="none" stroke="rgba(255,0,0,0.7)" stroke-width="0.85" stroke-linejoin="round"/>
<path d="M59 407 L59.2 407 L65 405.5 L70.8 417.5 L79.2 418 L88.3 413.3 L98.3 413 L110 413.3 L120 409.3 L130.8 408.2 L140.8 411.3 L152.5 407 L163.3 410.8 L174.2 409.7 L185 409 L195.8 408.3 L205 407.7 L215 405 L225 399.2 L236.7 395.8 L245.8 389.7 L253.3 383.3 L257.5 380 L263.3 374.2 L267.5 369.2 L272.5 366.7 L279.2 364.2 L285 364.2 L289.2 358.3 L292.5 353.3 L296.7 350 L301.7 347.5 L309.2 341.7 L315 335.8 L320 330 L325 328 L330 328 L335.8 329.2 L341.7 327.5 L346.7 323.3 L351.7 318.3 L356.7 313 L361.7 310.8 L366.7 306.7 L371.7 303 L378.3 302.5 L383.3 300 L386.7 294.3 L392 283.7 L396 278.1 L402.7 275.9 L410.7 276.3 L417.3 277.3 L420.7 275 L427.3 266.3 L435.3 257 L444 249.9 L454.7 246.3 L458.3 245.8 L465 240.8 L473.3 235 L481.7 228.3 L488.3 218.3 L495 214.2 L501.7 210.8 L508.3 203.3 L515 196.7 L521.7 192.5 L528.3 186.7 L533.3 185.8 L540 179.2 L546.7 175 L553.3 171.7 L560 165 L566.7 160 L575.8 154.5 L586.2 148.3 L596.7 142.8 L608.3 143.3 L617.5 142.8 L625.8 139.2 L634.2 135 L643.3 133.3 L654.2 133 L664.5 133.7 L676.2 135.8 L685.8 136.2 L695.8 139.2 L707.5 139.5 L710 142.5 L720 143.3 L730 146.2 L740 149.2 L746.7 148.7 L753.3 152.5 L758.3 153 L765 157.5 L771.7 161.7 L778.3 166.7 L785 167.5 L791.7 169.2 L798.3 172.5 L803.3 175.8 L808.3 179.2 L813.3 180 L820 182.5 L826.7 187.5 L833.3 192.5 L840 195.8 L846.7 198.3 L853.3 200.8 L860 205.8 L866.7 210.8 L873.3 216.7 L880 220 L886.7 225 L893.3 230.8 L898.3 235.8 L903.3 243.3 L908.3 247.5 L913.3 252.5 L918.3 256.7 L923.3 260 L928.3 264.2 L933.3 270 L938.3 276.7 L942.5 285 L946.7 290.8 L951.7 291.7 L956.7 294.2 L961.7 300 L966.7 306.7 L971.7 313.3 L976.7 321.7 L981.7 328.3 L986.7 335.8 L991.7 341.7 L996.7 341.7 L1001.7 340.8 L1006.7 341.7 L1011.7 345 L1016.7 350.8 L1021.7 355.8 L1026.7 355 L1031.7 355 L1036.7 358.3 L1041.7 362.5 L1046.7 367.5 L1051.7 375 L1056.7 381.7 L1061.7 385 L1066.7 386.7 L1073.3 387 L1078.3 387.5 L1086.7 390.8 L1091.7 390.8 L1096.7 395 L1101.7 395 L1106.7 394.2 L1111.7 397.5 L1116.7 396.7 L1123.3 394.2 L1128.3 395.8 L1133.3 400.8 L1138.3 404.2 L1143.3 404.2 L1148.3 403 L1153.3 405.8 L1158.3 409.2 L1163.3 410.8 L1169.5 411.7 L1169.8 411.7" fill="none" stroke="rgba(255,0,0,0.56)" stroke-width="1.6" stroke-dasharray="6 6" stroke-linejoin="round" stroke-linecap="round"/>
<path d="M59 430.8 L59.2 430.8 L60.8 425 L63.3 428.3 L67.5 430.8 L73.3 432.5 L78.3 428.3 L82.5 430.8 L87.5 433.3 L92.5 431.7 L96.7 427.5 L100.8 423.3 L106.7 419.2 L111.7 415.8 L115.8 415 L120.8 420 L125 425.8 L128.3 430 L132.5 431.7 L137.5 428.3 L142.5 426.7 L148.3 427 L153.3 428.3 L159.2 425.8 L164.2 426.7 L168.3 433.3 L171.7 437.5 L176.7 436.7 L180.8 432.5 L186.7 430 L190.8 425 L195.8 423.3 L200.8 420 L205.8 419.7 L210.8 418.3 L216.7 416.7 L220.8 410 L225 402.5 L229.2 398.3 L233.3 397.5 L237.5 400 L241.7 402.5 L245.8 405.8 L250.8 406.7 L254.2 405 L255 397.5 L263.3 390.3 L273.3 386.8 L284.5 384.3 L292.8 376.7 L300.8 369.5 L310.8 362 L319.5 353.3 L329.5 349.2 L340.3 344.5 L349.5 337.8 L358.3 329.5 L367.8 325 L375.3 314.2 L385 312 L392.5 303.3 L395 300 L398.7 297 L404 293.7 L409.3 291 L413.3 289 L418 286.6 L422.7 281.7 L428 277.7 L432.7 275 L437.3 271 L442.7 267.9 L447.5 265.8 L452.5 263.3 L455.8 259.2 L460 254.2 L468.3 245.8 L475 242.5 L481.7 236.7 L488.3 230.8 L495 223.3 L501.7 220.8 L508.3 215.8 L515 210.8 L521.7 205 L528.3 200 L535 192.5 L541.7 185 L548.3 184.2 L555 179.2 L561.7 175 L568.3 173.3 L575 168.3 L581.7 163.3 L588.3 160.8 L595.8 153.3 L605 146.7 L614.2 142.8 L623.7 142 L634.2 142.5 L644.5 140.3 L654.2 137 L665 137 L676.7 134.5 L688.3 137 L700 140.3 L713.3 144.2 L721.7 146.7 L728.3 150.8 L735.8 151.7 L741.7 150.8 L748.3 156.7 L755 160.8 L761.7 161.7 L768.3 166.7 L775 167.5 L781.7 170.8 L788.3 175.8 L795 178.3 L800 180 L801.7 180 L808.3 183.3 L815 184.2 L821.7 187.5 L828.3 190.8 L835 197.5 L841.7 201.7 L848.3 207.5 L855 209.2 L861.7 212.5 L868.3 218.3 L875 221.7 L880 228.3 L885 234.2 L890 237.5 L895 243.3 L900 247.5 L905 253.3 L909.2 260 L913.3 266.7 L918.3 273.3 L923.3 277.5 L928.3 279.2 L931.7 283.3 L936.7 288.3 L941.7 294.2 L946.7 297.5 L951.7 305.8 L956.7 316.7 L961.7 323.3 L966.7 330 L971.7 336.7 L976.7 340 L981.7 341.7 L986.7 348.3 L991.7 353.3 L996.7 355.8 L1000 356.7 L1005 361.7 L1010 365.8 L1016.7 369.2 L1021.7 374.2 L1026.7 379.2 L1031.7 384.2 L1036.7 383 L1041.7 386.7 L1046.7 393.3 L1051.7 397.5 L1056.7 395 L1061.7 394.2 L1066.7 395 L1071.7 397.5 L1076.7 396.7 L1084.2 399.2 L1088.3 403.7 L1093.3 399.2 L1098.3 398.3 L1103.3 401.7 L1108.3 403.7 L1113.3 400.8 L1118.3 403 L1123.3 405.3 L1128.3 407.5 L1133.3 410 L1138.3 411.7 L1143.3 409.2 L1150 407.5 L1155 409.2 L1160 414.2 L1165 418.3 L1169.5 421.7 L1169.8 421.7" fill="none" stroke="rgba(0,0,255,0.56)" stroke-width="1.6" stroke-dasharray="6 6" stroke-linejoin="round" stroke-linecap="round"/>
<path d="M59 370 L59.2 370 L62.5 375 L65.3 388.3 L68.3 401.3 L71.3 400.5 L74.5 402.5 L77.5 384.2 L80.5 365.8 L83.7 385 L86.7 393.3 L89.7 400 L92.7 416.7 L95.8 405.8 L98.8 403 L101.8 415.8 L105 440 L108 440.3 L110.8 433.3 L114 442.5 L117 452.5 L120 465.8 L123 478.3 L125.8 463.3 L127.8 448.3 L129.5 434.2 L132.5 425 L135.5 409.2 L138.3 389.7 L141.3 390.8 L144.5 398.3 L147.5 400.8 L150.5 404.2 L153.3 426.7 L156.7 440 L159.7 387.5 L163 383.3 L165.8 381.3 L171.7 365 L175 347.2 L178.3 354.2 L181.3 361.7 L184.3 374.5 L187.3 369.2 L190.3 372.5 L193.3 370.8 L196.3 372.5 L199.3 383.3 L202.3 394.2 L205.5 376.2 L208.5 375.3 L211.5 375.5 L214.5 366.3 L217.5 370 L220.7 382.2 L223.7 371.3 L226.7 390 L229.7 410.8 L232.8 415.8 L235.8 417.5 L239.2 425.8 L242 433 L245 432.5 L248.3 421.7 L251.7 403.3 L254.2 395.8 L257.5 393.7 L260.5 396.7 L264.2 401.7 L266.7 398.3 L270 383.3 L275.8 357.5 L279.2 346.7 L282 325 L285 307.5 L288 304.2 L291.2 306.7 L294.2 307 L297.2 317.5 L300 328.3 L303.3 332.5 L306.3 339.2 L309.2 348.3 L312.2 356.7 L315 345 L318.3 323.3 L322.7 297.7 L325.3 285.7 L327.6 277.7 L330.7 287.7 L333.3 297 L336.7 310.8 L339.7 318.3 L342.7 324.2 L345.8 328.3 L348.8 326.7 L351.8 318.7 L355 318.3 L358 319.7 L361.2 315.8 L363.3 305 L365.3 291.7 L367.1 281 L369.6 282.1 L371.3 277 L373.1 271 L376 274.3 L379.3 277.7 L382.7 281 L386 283.4 L388.7 282.3 L391.3 274.3 L394 273 L397.3 272.7 L400.7 273.7 L403.3 267.9 L406.7 271.7 L409.3 268.7 L413.3 270.3 L416 268.3 L419.1 256.3 L422 242.3 L425.1 249 L428.3 255.4 L431.3 252.3 L434 249.7 L436.7 241 L440 234.1 L443.3 235 L446.3 235.3 L449.5 235 L452.5 229.2 L455.5 223.3 L458.5 218.7 L461.7 221.7 L464.7 225.3 L467.7 228 L470.8 224.2 L473.8 220.8 L476.8 218.3 L480 210 L483 202.5 L486 195.8 L489.2 195.3 L492.2 194.7 L495.2 201.7 L498.3 205.8 L501.3 212.5 L504.3 205.8 L507.3 201.7 L510.5 190.8 L513.5 195 L516.5 202.8 L519.7 200.8 L522.7 194.2 L525.7 189.2 L528.7 189.5 L531.8 189.2 L534.8 185.8 L537.8 175 L541 165 L544 159.2 L547 155.3 L550 164.2 L553.3 168.3 L556.3 178.3 L559.2 184.2 L562.5 185.8 L565.5 177.5 L568.3 166.7 L571.2 159.2 L574.2 158.7 L577.5 150 L580.8 145 L584.2 149.2 L590 157 L595.8 150.8 L600.8 150.8 L605 150.8 L608.3 146.7 L611.7 148.3 L614.7 157 L617.5 151.7 L620.8 135.8 L624.2 125 L626.7 119.2 L630 115.3 L632.5 113.7 L635.3 114.7 L638.3 110.8 L642 109.2 L645 121.7 L648.3 138.3 L650.8 140.8 L654.2 130 L656.7 118.3 L660 116.7 L663 120 L666.7 114.2 L669.2 113 L672.5 108 L675 112.5 L678.3 124.2 L681.7 124.2 L684.7 114.7 L687.5 113.3 L690.3 109.7 L693.3 113.7 L696.7 123.3 L699.7 128.3 L702.5 126.7 L705.8 138.3 L709.2 141.7 L712.2 143 L715.3 143 L718.3 139.2 L721.3 140.3 L724.5 135.8 L727.5 132.5 L730.5 127.8 L733.5 130.5 L736.7 137.5 L739.7 144.2 L742.7 145.5 L745.8 138.3 L748.8 132.5 L751.8 128.3 L755 125.8 L758 123.3 L761 115 L764.2 114.5 L767.2 119.2 L770.2 129.7 L773.3 128 L776.3 126.7 L779.3 129.5 L782.3 131.7 L785.5 133.7 L788.5 135 L791.5 134.7 L794.7 138.3 L797.7 144.2 L800.7 154.2 L803.7 161.2 L806.8 164.7 L809.8 164.7 L812.8 158 L815.8 158.3 L819 173.3 L822 179.2 L825 174.7 L828 180 L831.2 185 L834.2 177 L837.2 184.2 L840.3 187.5 L843.3 195 L846.3 195.3 L849.5 192 L852.5 201.7 L855.5 205 L858.7 208.7 L861.7 214.2 L864.7 222.5 L867.7 231.7 L870.8 238.3 L873.8 242.5 L876.8 237.5 L880 232.5 L883 230 L886 223 L889.2 222.8 L892.2 226.7 L895.3 230 L898.3 235 L901.3 241.7 L904.5 246.7 L907.5 248.7 L910.5 251.7 L913.5 255.8 L916.7 256.3 L919.7 251.3 L922.7 255.8 L925.8 256.2 L928.8 253.3 L931.8 247.8 L935 250 L938 252.2 L941 243.3 L944.2 234.2 L947.2 243.7" fill="none" stroke="#000" stroke-width="2.6" stroke-linejoin="round" stroke-linecap="round"/>
<rect x="59" y="59" width="1110.7" height="467.5" fill="none" stroke="#000" stroke-width="0.75"/>
<path d="M59 526.6 H1169.8 M59.04 526.6 v7.2 M62.09 526.6 v7.2 M65.14 526.6 v7.2 M68.19 526.6 v7.2 M71.25 526.6 v7.2 M74.30 526.6 v7.2 M77.35 526.6 v7.2 M80.40 526.6 v7.2 M83.45 526.6 v7.2 M86.50 526.6 v7.2 M89.55 526.6 v7.2 M92.61 526.6 v7.2 M95.66 526.6 v7.2 M98.71 526.6 v7.2 M101.76 526.6 v7.2 M104.81 526.6 v7.2 M107.86 526.6 v7.2 M110.91 526.6 v7.2 M113.97 526.6 v7.2 M117.02 526.6 v7.2 M120.07 526.6 v7.2 M123.12 526.6 v7.2 M126.17 526.6 v7.2 M129.22 526.6 v7.2 M132.27 526.6 v7.2 M135.33 526.6 v7.2 M138.38 526.6 v7.2 M141.43 526.6 v7.2 M144.48 526.6 v7.2 M147.53 526.6 v7.2 M150.58 526.6 v7.2 M153.63 526.6 v7.2 M156.69 526.6 v7.2 M159.74 526.6 v7.2 M162.79 526.6 v7.2 M165.84 526.6 v7.2 M168.89 526.6 v7.2 M171.94 526.6 v7.2 M174.99 526.6 v7.2 M178.05 526.6 v7.2 M181.10 526.6 v7.2 M184.15 526.6 v7.2 M187.20 526.6 v7.2 M190.25 526.6 v7.2 M193.30 526.6 v7.2 M196.35 526.6 v7.2 M199.41 526.6 v7.2 M202.46 526.6 v7.2 M205.51 526.6 v7.2 M208.56 526.6 v7.2 M211.61 526.6 v7.2 M214.66 526.6 v7.2 M217.71 526.6 v7.2 M220.77 526.6 v7.2 M223.82 526.6 v7.2 M226.87 526.6 v7.2 M229.92 526.6 v7.2 M232.97 526.6 v7.2 M236.02 526.6 v7.2 M239.07 526.6 v7.2 M242.13 526.6 v7.2 M245.18 526.6 v7.2 M248.23 526.6 v7.2 M251.28 526.6 v7.2 M254.33 526.6 v7.2 M257.38 526.6 v7.2 M260.43 526.6 v7.2 M263.49 526.6 v7.2 M266.54 526.6 v7.2 M269.59 526.6 v7.2 M272.64 526.6 v7.2 M275.69 526.6 v7.2 M278.74 526.6 v7.2 M281.79 526.6 v7.2 M284.85 526.6 v7.2 M287.90 526.6 v7.2 M290.95 526.6 v7.2 M294.00 526.6 v7.2 M297.05 526.6 v7.2 M300.10 526.6 v7.2 M303.15 526.6 v7.2 M306.21 526.6 v7.2 M309.26 526.6 v7.2 M312.31 526.6 v7.2 M315.36 526.6 v7.2 M318.41 526.6 v7.2 M321.46 526.6 v7.2 M324.51 526.6 v7.2 M327.57 526.6 v7.2 M330.62 526.6 v7.2 M333.67 526.6 v7.2 M336.72 526.6 v7.2 M339.77 526.6 v7.2 M342.82 526.6 v7.2 M345.87 526.6 v7.2 M348.93 526.6 v7.2 M351.98 526.6 v7.2 M355.03 526.6 v7.2 M358.08 526.6 v7.2 M361.13 526.6 v7.2 M364.18 526.6 v7.2 M367.23 526.6 v7.2 M370.29 526.6 v7.2 M373.34 526.6 v7.2 M376.39 526.6 v7.2 M379.44 526.6 v7.2 M382.49 526.6 v7.2 M385.54 526.6 v7.2 M388.59 526.6 v7.2 M391.65 526.6 v7.2 M394.70 526.6 v7.2 M397.75 526.6 v7.2 M400.80 526.6 v7.2 M403.85 526.6 v7.2 M406.90 526.6 v7.2 M409.95 526.6 v7.2 M413.01 526.6 v7.2 M416.06 526.6 v7.2 M419.11 526.6 v7.2 M422.16 526.6 v7.2 M425.21 526.6 v7.2 M428.26 526.6 v7.2 M431.31 526.6 v7.2 M434.37 526.6 v7.2 M437.42 526.6 v7.2 M440.47 526.6 v7.2 M443.52 526.6 v7.2 M446.57 526.6 v7.2 M449.62 526.6 v7.2 M452.67 526.6 v7.2 M455.73 526.6 v7.2 M458.78 526.6 v7.2 M461.83 526.6 v7.2 M464.88 526.6 v7.2 M467.93 526.6 v7.2 M470.98 526.6 v7.2 M474.03 526.6 v7.2 M477.09 526.6 v7.2 M480.14 526.6 v7.2 M483.19 526.6 v7.2 M486.24 526.6 v7.2 M489.29 526.6 v7.2 M492.34 526.6 v7.2 M495.39 526.6 v7.2 M498.45 526.6 v7.2 M501.50 526.6 v7.2 M504.55 526.6 v7.2 M507.60 526.6 v7.2 M510.65 526.6 v7.2 M513.70 526.6 v7.2 M516.75 526.6 v7.2 M519.81 526.6 v7.2 M522.86 526.6 v7.2 M525.91 526.6 v7.2 M528.96 526.6 v7.2 M532.01 526.6 v7.2 M535.06 526.6 v7.2 M538.11 526.6 v7.2 M541.17 526.6 v7.2 M544.22 526.6 v7.2 M547.27 526.6 v7.2 M550.32 526.6 v7.2 M553.37 526.6 v7.2 M556.42 526.6 v7.2 M559.47 526.6 v7.2 M562.53 526.6 v7.2 M565.58 526.6 v7.2 M568.63 526.6 v7.2 M571.68 526.6 v7.2 M574.73 526.6 v7.2 M577.78 526.6 v7.2 M580.83 526.6 v7.2 M583.89 526.6 v7.2 M586.94 526.6 v7.2 M589.99 526.6 v7.2 M593.04 526.6 v7.2 M596.09 526.6 v7.2 M599.14 526.6 v7.2 M602.19 526.6 v7.2 M605.25 526.6 v7.2 M608.30 526.6 v7.2 M611.35 526.6 v7.2 M614.40 526.6 v7.2 M617.45 526.6 v7.2 M620.50 526.6 v7.2 M623.55 526.6 v7.2 M626.61 526.6 v7.2 M629.66 526.6 v7.2 M632.71 526.6 v7.2 M635.76 526.6 v7.2 M638.81 526.6 v7.2 M641.86 526.6 v7.2 M644.91 526.6 v7.2 M647.97 526.6 v7.2 M651.02 526.6 v7.2 M654.07 526.6 v7.2 M657.12 526.6 v7.2 M660.17 526.6 v7.2 M663.22 526.6 v7.2 M666.27 526.6 v7.2 M669.33 526.6 v7.2 M672.38 526.6 v7.2 M675.43 526.6 v7.2 M678.48 526.6 v7.2 M681.53 526.6 v7.2 M684.58 526.6 v7.2 M687.63 526.6 v7.2 M690.69 526.6 v7.2 M693.74 526.6 v7.2 M696.79 526.6 v7.2 M699.84 526.6 v7.2 M702.89 526.6 v7.2 M705.94 526.6 v7.2 M708.99 526.6 v7.2 M712.05 526.6 v7.2 M715.10 526.6 v7.2 M718.15 526.6 v7.2 M721.20 526.6 v7.2 M724.25 526.6 v7.2 M727.30 526.6 v7.2 M730.35 526.6 v7.2 M733.41 526.6 v7.2 M736.46 526.6 v7.2 M739.51 526.6 v7.2 M742.56 526.6 v7.2 M745.61 526.6 v7.2 M748.66 526.6 v7.2 M751.71 526.6 v7.2 M754.77 526.6 v7.2 M757.82 526.6 v7.2 M760.87 526.6 v7.2 M763.92 526.6 v7.2 M766.97 526.6 v7.2 M770.02 526.6 v7.2 M773.07 526.6 v7.2 M776.13 526.6 v7.2 M779.18 526.6 v7.2 M782.23 526.6 v7.2 M785.28 526.6 v7.2 M788.33 526.6 v7.2 M791.38 526.6 v7.2 M794.43 526.6 v7.2 M797.49 526.6 v7.2 M800.54 526.6 v7.2 M803.59 526.6 v7.2 M806.64 526.6 v7.2 M809.69 526.6 v7.2 M812.74 526.6 v7.2 M815.79 526.6 v7.2 M818.85 526.6 v7.2 M821.90 526.6 v7.2 M824.95 526.6 v7.2 M828.00 526.6 v7.2 M831.05 526.6 v7.2 M834.10 526.6 v7.2 M837.15 526.6 v7.2 M840.21 526.6 v7.2 M843.26 526.6 v7.2 M846.31 526.6 v7.2 M849.36 526.6 v7.2 M852.41 526.6 v7.2 M855.46 526.6 v7.2 M858.51 526.6 v7.2 M861.57 526.6 v7.2 M864.62 526.6 v7.2 M867.67 526.6 v7.2 M870.72 526.6 v7.2 M873.77 526.6 v7.2 M876.82 526.6 v7.2 M879.87 526.6 v7.2 M882.93 526.6 v7.2 M885.98 526.6 v7.2 M889.03 526.6 v7.2 M892.08 526.6 v7.2 M895.13 526.6 v7.2 M898.18 526.6 v7.2 M901.23 526.6 v7.2 M904.29 526.6 v7.2 M907.34 526.6 v7.2 M910.39 526.6 v7.2 M913.44 526.6 v7.2 M916.49 526.6 v7.2 M919.54 526.6 v7.2 M922.59 526.6 v7.2 M925.65 526.6 v7.2 M928.70 526.6 v7.2 M931.75 526.6 v7.2 M934.80 526.6 v7.2 M937.85 526.6 v7.2 M940.90 526.6 v7.2 M943.95 526.6 v7.2 M947.01 526.6 v7.2 M950.06 526.6 v7.2 M953.11 526.6 v7.2 M956.16 526.6 v7.2 M959.21 526.6 v7.2 M962.26 526.6 v7.2 M965.31 526.6 v7.2 M968.37 526.6 v7.2 M971.42 526.6 v7.2 M974.47 526.6 v7.2 M977.52 526.6 v7.2 M980.57 526.6 v7.2 M983.62 526.6 v7.2 M986.67 526.6 v7.2 M989.73 526.6 v7.2 M992.78 526.6 v7.2 M995.83 526.6 v7.2 M998.88 526.6 v7.2 M1001.93 526.6 v7.2 M1004.98 526.6 v7.2 M1008.03 526.6 v7.2 M1011.09 526.6 v7.2 M1014.14 526.6 v7.2 M1017.19 526.6 v7.2 M1020.24 526.6 v7.2 M1023.29 526.6 v7.2 M1026.34 526.6 v7.2 M1029.39 526.6 v7.2 M1032.45 526.6 v7.2 M1035.50 526.6 v7.2 M1038.55 526.6 v7.2 M1041.60 526.6 v7.2 M1044.65 526.6 v7.2 M1047.70 526.6 v7.2 M1050.75 526.6 v7.2 M1053.81 526.6 v7.2 M1056.86 526.6 v7.2 M1059.91 526.6 v7.2 M1062.96 526.6 v7.2 M1066.01 526.6 v7.2 M1069.06 526.6 v7.2 M1072.11 526.6 v7.2 M1075.17 526.6 v7.2 M1078.22 526.6 v7.2 M1081.27 526.6 v7.2 M1084.32 526.6 v7.2 M1087.37 526.6 v7.2 M1090.42 526.6 v7.2 M1093.47 526.6 v7.2 M1096.53 526.6 v7.2 M1099.58 526.6 v7.2 M1102.63 526.6 v7.2 M1105.68 526.6 v7.2 M1108.73 526.6 v7.2 M1111.78 526.6 v7.2 M1114.83 526.6 v7.2 M1117.89 526.6 v7.2 M1120.94 526.6 v7.2 M1123.99 526.6 v7.2 M1127.04 526.6 v7.2 M1130.09 526.6 v7.2 M1133.14 526.6 v7.2 M1136.19 526.6 v7.2 M1139.25 526.6 v7.2 M1142.30 526.6 v7.2 M1145.35 526.6 v7.2 M1148.40 526.6 v7.2 M1151.45 526.6 v7.2 M1154.50 526.6 v7.2 M1157.55 526.6 v7.2 M1160.61 526.6 v7.2 M1163.66 526.6 v7.2 M1166.71 526.6 v7.2 M1169.76 526.6 v7.2 M59 76.36 h-7.2 M59 109.65 h-7.2 M59 142.95 h-7.2 M59 176.25 h-7.2 M59 209.55 h-7.2 M59 242.85 h-7.2 M59 276.15 h-7.2 M59 309.45 h-7.2 M59 342.75 h-7.2 M59 376.05 h-7.2 M59 409.35 h-7.2 M59 442.65 h-7.2 M59 475.95 h-7.2 M59 509.25 h-7.2" fill="none" stroke="#000" stroke-width="0.75"/>
<g class="sans" font-size="8.7" fill="#000" text-anchor="middle">
<text transform="translate(59 552.3) scale(0.98 1)">sty 01</text>
<text transform="translate(89.6 552.3) scale(0.98 1)">sty 11</text>
<text transform="translate(120.1 552.3) scale(0.98 1)">sty 21</text>
<text transform="translate(150.6 552.3) scale(0.98 1)">sty 31</text>
<text transform="translate(181.1 552.3) scale(0.98 1)">lut 10</text>
<text transform="translate(211.6 552.3) scale(0.98 1)">lut 20</text>
<text transform="translate(245.2 552.3) scale(0.98 1)">mar 03</text>
<text transform="translate(281.8 552.3) scale(0.98 1)">mar 15</text>
<text transform="translate(318.4 552.3) scale(0.98 1)">mar 27</text>
<text transform="translate(352 552.3) scale(0.98 1)">kwi 07</text>
<text transform="translate(385.5 552.3) scale(0.98 1)">kwi 18</text>
<text transform="translate(419.1 552.3) scale(0.98 1)">kwi 29</text>
<text transform="translate(452.7 552.3) scale(0.98 1)">maj 10</text>
<text transform="translate(486.2 552.3) scale(0.98 1)">maj 21</text>
<text transform="translate(519.8 552.3) scale(0.98 1)">cze 01</text>
<text transform="translate(553.4 552.3) scale(0.98 1)">cze 12</text>
<text transform="translate(586.9 552.3) scale(0.98 1)">cze 23</text>
<text transform="translate(617.5 552.3) scale(0.98 1)">lip 03</text>
<text transform="translate(648 552.3) scale(0.98 1)">lip 13</text>
<text transform="translate(678.5 552.3) scale(0.98 1)">lip 23</text>
<text transform="translate(709 552.3) scale(0.98 1)">sie 02</text>
<text transform="translate(739.5 552.3) scale(0.98 1)">sie 12</text>
<text transform="translate(770 552.3) scale(0.98 1)">sie 22</text>
<text transform="translate(803.6 552.3) scale(0.98 1)">wrz 02</text>
<text transform="translate(837.2 552.3) scale(0.98 1)">wrz 13</text>
<text transform="translate(870.7 552.3) scale(0.98 1)">wrz 24</text>
<text transform="translate(904.3 552.3) scale(0.98 1)">paź 05</text>
<text transform="translate(937.9 552.3) scale(0.98 1)">paź 16</text>
<text transform="translate(971.4 552.3) scale(0.98 1)">paź 27</text>
<text transform="translate(1001.9 552.3) scale(0.98 1)">lis 06</text>
<text transform="translate(1029.4 552.3) scale(0.98 1)">lis 15</text>
<text transform="translate(1056.9 552.3) scale(0.98 1)">lis 24</text>
<text transform="translate(1087.4 552.3) scale(0.98 1)">gru 04</text>
<text transform="translate(1120.9 552.3) scale(0.98 1)">gru 15</text>
<text transform="translate(1154.5 552.3) scale(0.98 1)">gru 26</text>
</g>
<g class="sans" font-size="10.3" fill="#000" text-anchor="middle">
<text transform="translate(42.3 76.4) rotate(-90) scale(0.87 1)">20</text>
<text transform="translate(42.3 109.7) rotate(-90) scale(0.87 1)">15</text>
<text transform="translate(42.3 143) rotate(-90) scale(0.87 1)">10</text>
<text transform="translate(42.3 176.3) rotate(-90) scale(0.87 1)">5</text>
<text transform="translate(42.3 209.6) rotate(-90) scale(0.87 1)">0</text>
<text transform="translate(42.3 242.9) rotate(-90) scale(0.87 1)">-5</text>
<text transform="translate(42.3 276.2) rotate(-90) scale(0.87 1)">-10</text>
<text transform="translate(42.3 309.5) rotate(-90) scale(0.87 1)">-15</text>
<text transform="translate(42.3 342.8) rotate(-90) scale(0.87 1)">-20</text>
<text transform="translate(42.3 376.1) rotate(-90) scale(0.87 1)">-25</text>
<text transform="translate(42.3 409.4) rotate(-90) scale(0.87 1)">-30</text>
<text transform="translate(42.3 442.6) rotate(-90) scale(0.87 1)">-35</text>
<text transform="translate(42.3 475.9) rotate(-90) scale(0.87 1)">-40</text>
<text transform="translate(42.3 509.2) rotate(-90) scale(0.87 1)">-45</text>
</g>
<g class="sans" font-size="10.8" fill="#000" text-anchor="middle">
<text transform="translate(614.2 580.9) scale(1.1 1)">Data</text>
<text transform="translate(12.4 292.6) rotate(-90) scale(1.13 1)">Temperatura</text>
</g>
<g fill="none">
<path d="M97.8 84.1 H150.9" stroke="#000" stroke-width="2.3" stroke-linecap="round"/>
<path d="M97 98.5 H151.6" stroke="rgba(0,0,255,0.7)" stroke-width="1"/>
<path d="M97 112.9 H151.6" stroke="rgba(34,139,34,0.65)" stroke-width="1"/>
<path d="M97 127.3 H151.6" stroke="rgba(255,200,0,0.65)" stroke-width="1"/>
<path d="M97 141.7 H151.6" stroke="rgba(255,0,0,0.7)" stroke-width="1"/>
<path d="M97 156.1 H151.6" stroke="#ff0000" stroke-width="1.5" stroke-dasharray="6 6" stroke-linecap="round"/>
<path d="M97 170.5 H151.6" stroke="#0000ff" stroke-width="1.5" stroke-dasharray="6 6" stroke-linecap="round"/>
<path d="M97.9 184.9 H150.3" stroke="#e5e5e5" stroke-width="5.6" stroke-linecap="round"/>
</g>
<g class="sans" font-size="10.9" fill="#000">
<text transform="translate(162.2 88.2) scale(1.125 1)">2022</text>
<text transform="translate(162.2 102.6) scale(1.125 1)">1981-1990</text>
<text transform="translate(162.2 117) scale(1.125 1)">1991-2000</text>
<text transform="translate(162.2 131.4) scale(1.125 1)">2001-2010</text>
<text transform="translate(162.2 145.8) scale(1.125 1)">2011-2020</text>
<text transform="translate(162.2 160.2) scale(1.125 1)">1991-2020</text>
<text transform="translate(162.2 174.6) scale(1.125 1)">1951-1980</text>
<text transform="translate(162.2 189) scale(1.125 1)">max-min 1950-2021</text>
</g>
</svg></body></html>
